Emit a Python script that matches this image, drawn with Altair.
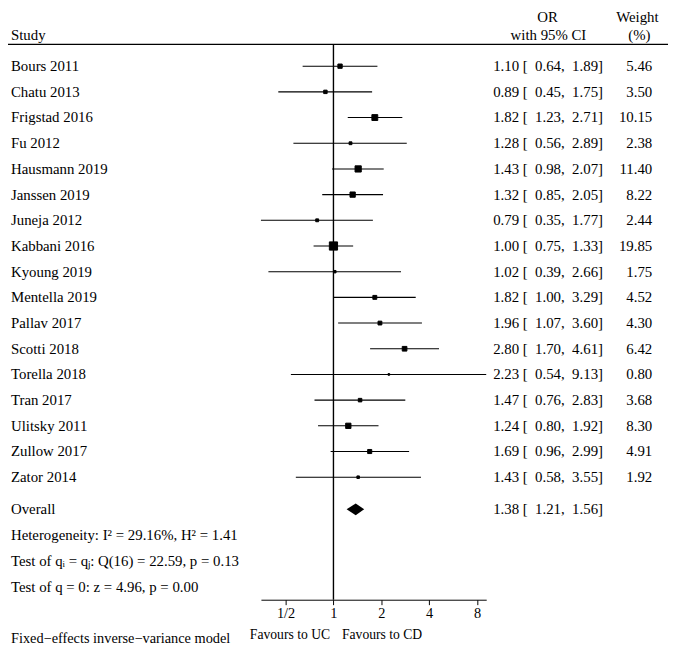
import altair as alt
import pandas as pd

# ---------------- data ----------------
studies = ["Bours 2011", "Chatu 2013", "Frigstad 2016", "Fu 2012", "Hausmann 2019",
           "Janssen 2019", "Juneja 2012", "Kabbani 2016", "Kyoung 2019", "Mentella 2019",
           "Pallav 2017", "Scotti 2018", "Torella 2018", "Tran 2017", "Ulitsky 2011",
           "Zullow 2017", "Zator 2014"]
or_est = [1.10, 0.89, 1.82, 1.28, 1.43, 1.32, 0.79, 1.00, 1.02, 1.82, 1.96, 2.80,
          2.23, 1.47, 1.24, 1.69, 1.43]
ci_low = [0.64, 0.45, 1.23, 0.56, 0.98, 0.85, 0.35, 0.75, 0.39, 1.00, 1.07, 1.70,
          0.54, 0.76, 0.80, 0.96, 0.58]
ci_high = [1.89, 1.75, 2.71, 2.89, 2.07, 2.05, 1.77, 1.33, 2.66, 3.29, 3.60, 4.61,
           9.13, 2.83, 1.92, 2.99, 3.55]
weights = [5.46, 3.50, 10.15, 2.38, 11.40, 8.22, 2.44, 19.85, 1.75, 4.52, 4.30, 6.42,
           0.80, 3.68, 8.30, 4.91, 1.92]
overall_label = "Overall"
overall = [1.38, 1.21, 1.56]  # estimate, lower, upper
stats_lines = ["Heterogeneity: I\u00b2 = 29.16%, H\u00b2 = 1.41",
               "Test of q\u1d62 = q\u2c7c: Q(16) = 22.59, p = 0.13",
               "Test of q = 0: z = 4.96, p = 0.00"]
tick_values = [0.5, 1, 2, 4, 8]
tick_labels = ["1/2", "1", "2", "4", "8"]
header_study = "Study"
header_or = ["OR", "with 95% CI"]
header_weight = ["Weight", "(%)"]
favours_left = "Favours to UC"
favours_right = "Favours to CD"
model_note = "Fixed\u2212effects inverse\u2212variance model"

# ---------------- layout ----------------
FONT = "Liberation Serif"
W, H = 661, 595
ROW0_PX, ROW_STEP = 55.0, 26.0          # chart-px of first row, px per row
R_TOP = -ROW0_PX / ROW_STEP
R_BOT = (H - ROW0_PX) / ROW_STEP
n = len(studies)
overall_row = n + 0.25
stats_rows = [n + 1.27, n + 2.27, n + 3.27]
diamond_half = 0.23

nbsp = "\u00a0"
def ci_text(e, l, h):
    return f"{e:.2f} [ {l:5.2f}, {h:5.2f}]".replace(" ", nbsp)

df = pd.DataFrame({
    "study": studies, "est": or_est, "lo": ci_low, "hi": ci_high, "w": weights,
    "row": list(range(n)),
})
df["ci"] = [ci_text(e, l, h) for e, l, h in zip(or_est, ci_low, ci_high)]
df["wt"] = [f"{w:.2f}" for w in weights]

left_df = pd.DataFrame({
    "label": studies + [overall_label] + stats_lines,
    "row": list(range(n)) + [overall_row] + stats_rows,
})
or_df = pd.DataFrame({
    "ci": list(df["ci"]) + [ci_text(*overall)],
    "row": list(range(n)) + [overall_row],
})
diamond_df = pd.DataFrame({
    "x": [overall[1], overall[0], overall[2]],
    "ytop": [overall_row, overall_row - diamond_half, overall_row],
    "ybot": [overall_row, overall_row + diamond_half, overall_row],
})

label_expr = ""
for v, lab in zip(tick_values, tick_labels):
    label_expr += f"datum.value == {v} ? '{lab}' : "
label_expr += "''"

xscale = alt.Scale(type="log", domain=[min(ci_low), max(ci_high)],
                   range=[256, 484], nice=False, zero=False)
xaxis = alt.Axis(values=tick_values, labelExpr=label_expr, title=None, grid=False,
                 domainColor="black", domainWidth=1, tickColor="black", tickSize=5,
                 tickWidth=1, labelFont=FONT, labelFontSize=14.5, labelColor="black",
                 labelPadding=2, labelFlush=False, labelOverlap=False)
yscale = alt.Scale(domain=[R_TOP, R_BOT], reverse=True, nice=False, zero=False)

def X(field):
    return alt.X(f"{field}:Q", scale=xscale, axis=xaxis)

def Y(field):
    return alt.Y(f"{field}:Q", scale=yscale, axis=None)

vline = alt.Chart(pd.DataFrame({"x": [1]})).mark_rule(
    color="black", strokeWidth=1.4).encode(
    x=X("x"), y=alt.value(33), y2=alt.value(H))

ci_rules = alt.Chart(df).mark_rule(color="black", strokeWidth=1.1).encode(
    x=X("lo"), x2="hi:Q", y=Y("row"))

squares = alt.Chart(df).mark_square(color="black", filled=True, stroke="black",
                                    strokeWidth=1, opacity=1).encode(
    x=X("est"), y=Y("row"),
    size=alt.Size("w:Q", scale=alt.Scale(domain=[0, max(weights)], range=[0, 69]),
                  legend=None))

diamond = alt.Chart(diamond_df).mark_area(color="black", opacity=1).encode(
    x=X("x"), y=Y("ytop"), y2="ybot:Q")

left_text = alt.Chart(left_df).mark_text(align="left", baseline="middle",
                                         font=FONT, fontSize=15, color="black").encode(
    x=alt.value(3), y=Y("row"), text="label:N")

or_text = alt.Chart(or_df).mark_text(align="left", baseline="middle",
                                     font=FONT, fontSize=15, color="black").encode(
    x=alt.value(491), y=Y("row"), text="ci:N")

wt_text = alt.Chart(df).mark_text(align="right", baseline="middle",
                                  font=FONT, fontSize=15, color="black").encode(
    x=alt.value(652), y=Y("row"), text="wt:N")

def free_text(txt, x, y, align="left", size=15):
    return alt.Chart(pd.DataFrame({"t": [txt]})).mark_text(
        align=align, baseline="middle", font=FONT, fontSize=size, color="black").encode(
        x=alt.value(x), y=alt.value(y), text="t:N")

headers = [
    free_text(header_study, 3, 23.5),
    free_text(header_or[0], 546, 5.5, "center"),
    free_text(header_or[1], 547, 23.5, "center"),
    free_text(header_weight[0], 637, 5.5, "center"),
    free_text(header_weight[1], 639, 23.5, "center"),
    free_text(favours_left, 326, 631, "right", 13.8),
    free_text(favours_right, 338, 631, "left", 13.8),
    free_text(model_note, 3, 635, "left", 14.5),
]

header_rule = alt.Chart(pd.DataFrame({"a": [0]})).mark_rule(
    color="black", strokeWidth=1.2).encode(
    x=alt.value(0), x2=alt.value(668), y=alt.value(33))

chart = alt.layer(
    header_rule, vline, ci_rules, squares, diamond, left_text, or_text, wt_text, *headers
).properties(
    width=W, height=H,
    autosize=alt.AutoSizeParams(type="none"),
    padding={"left": 0, "top": 0, "right": 8, "bottom": 46},
    background="white",
).configure_view(stroke=None)

chart.save("out.html", embed_options={"renderer": "svg", "actions": False})
